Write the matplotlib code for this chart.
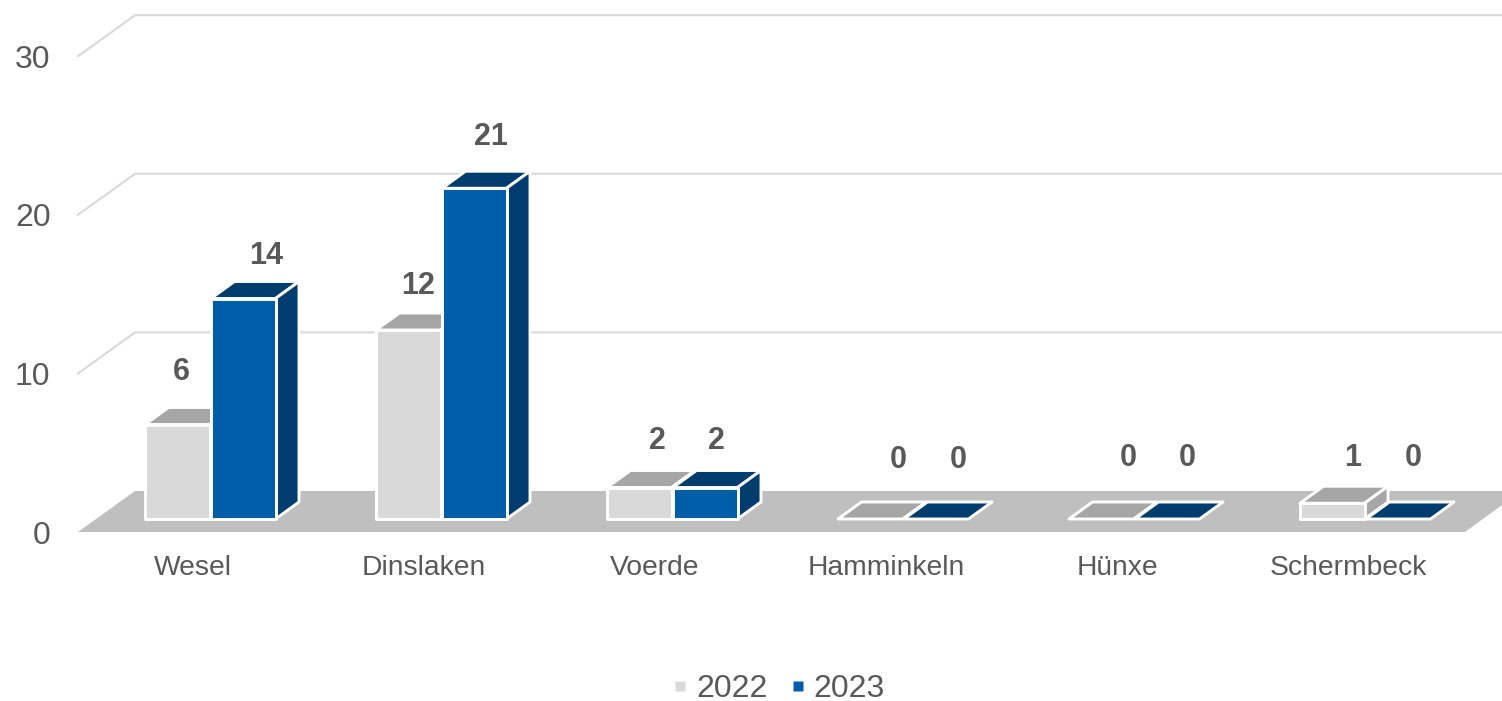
"""Pseudo-3D clustered column chart, Wesel district towns 2022 vs 2023."""
import matplotlib
matplotlib.use("Agg")
import matplotlib.pyplot as plt
from matplotlib.lines import Line2D

plt.rcParams["font.family"] = ["Liberation Sans", "DejaVu Sans"]

towns = ["Wesel", "Dinslaken", "Voerde", "Hamminkeln", "Hünxe", "Schermbeck"]
values_2022 = [6, 12, 2, 0, 0, 1]
values_2023 = [14, 21, 2, 0, 0, 0]
y_ticks = [0, 10, 20, 30]

# label nudges in pixels from the category centre / bar top, placed by hand in the original
label_dx_2022 = [-30, -24, -16, -6, -7, -13]
label_dx_2023 = [55, 49, 43, 54, 52, 47]
label_dy_2022 = [56, 48, 50, 63, 65, 49]
label_dy_2023 = [46, 55, 50, 63, 65, 65]

# pixel scales of the reference image
W, H = 1502, 701
PX_X = 231.0   # px per category
PX_Y = 15.75   # px per value unit
X0 = 211.0     # px of first category centre
Y0 = 519.0     # px of value 0 at bar front
BAR_W = 64.5 / PX_X
DEPTH_X = 23.5 / PX_X
DEPTH_Y = 17 / PX_Y

GRID = "#d9d9d9"
FLOOR = "#bfbfbf"
TEXT = "#595959"
FRONT = {2022: "#d9d9d9", 2023: "#005ea8"}
SHADE = {2022: "#a6a6a6", 2023: "#003c6e"}


def dx(px):
    return px / PX_X


def dy(px):
    return px / PX_Y


def draw_bar(ax, left, value, year):
    right = left + BAR_W
    edge = dict(edgecolor="white", linewidth=2.1, joinstyle="round", zorder=3)
    # top face (the only face left when value is 0)
    ax.fill([left, right, right + DEPTH_X, left + DEPTH_X],
            [value, value, value + DEPTH_Y, value + DEPTH_Y],
            facecolor=SHADE[year], **edge)
    if value == 0:
        return
    ax.fill([right, right + DEPTH_X, right + DEPTH_X, right],
            [0, DEPTH_Y, value + DEPTH_Y, value],
            facecolor=SHADE[year], **edge)
    ax.fill([left, right, right, left], [0, 0, value, value],
            facecolor=FRONT[year], **edge)


fig = plt.figure(figsize=(W / 100, H / 100), dpi=100)
ax = fig.add_axes([0, 0, 1, 1])
ax.set_xlim(-X0 / PX_X, (W - X0) / PX_X)
ax.set_ylim((Y0 - H) / PX_Y, Y0 / PX_Y)
ax.axis("off")

# floor and back wall
front_y = dy(-13)
back_y = dy(28)
front_l = dx(78 - X0)
back_l = dx(135 - X0)
right_edge = dx(W - X0)
ax.fill([front_l, back_l, right_edge, right_edge, dx(1465 - X0)],
        [front_y, back_y, back_y, dy(14), front_y],
        facecolor=FLOOR, edgecolor="none", zorder=1)
for v in y_ticks[1:]:
    v_px = v * 1.007
    ax.plot([front_l, back_l, right_edge],
            [front_y + v_px, back_y + v_px, back_y + v_px],
            color=GRID, lw=1.5, solid_joinstyle="miter", zorder=2)
for v in y_ticks:
    ax.text(dx(50.5 - X0), front_y + v * 1.007, str(v), ha="right", va="center_baseline",
            fontsize=23, color=TEXT)

for i, town in enumerate(towns):
    draw_bar(ax, i - BAR_W - dx(1.5), values_2022[i], 2022)
    draw_bar(ax, i, values_2023[i], 2023)
    ax.text(i + dx(-18), dy(-46), town, ha="center", va="center_baseline",
            fontsize=20.3, color=TEXT)
    ax.text(i + dx(label_dx_2022[i]), values_2022[i] + dy(label_dy_2022[i]),
            str(values_2022[i]), ha="center", va="center_baseline",
            fontsize=22, fontweight="bold", color=TEXT, zorder=4)
    ax.text(i + dx(label_dx_2023[i]), values_2023[i] + dy(label_dy_2023[i]),
            str(values_2023[i]), ha="center", va="center_baseline",
            fontsize=22, fontweight="bold", color=TEXT, zorder=4)

handles = [Line2D([], [], ls="none", marker="s", ms=7.5, mec="none", mfc=FRONT[y]) for y in (2022, 2023)]
ax.legend(handles, ["2022", "2023"], ncol=2, frameon=False, fontsize=23, labelcolor=TEXT,
          loc="center", bbox_to_anchor=(778.5 / W, 1 - 689 / H), handlelength=0.5,
          handletextpad=0.25, columnspacing=0.7)

fig.savefig("out.png", dpi=100)
